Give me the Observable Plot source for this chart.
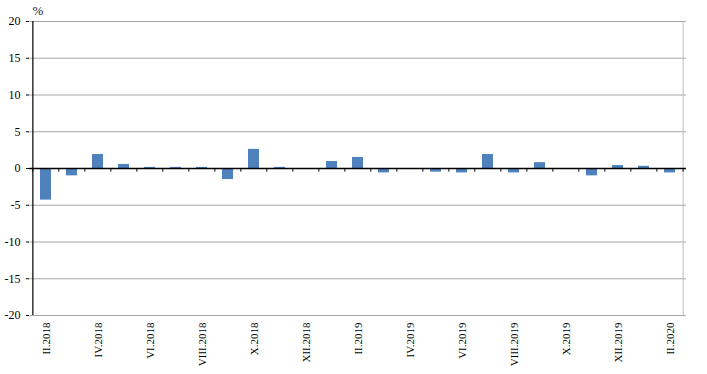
<!DOCTYPE html>
<html>
<head>
<meta charset="utf-8">
<script src="https://cdn.jsdelivr.net/npm/d3@7"></script>
<script src="https://cdn.jsdelivr.net/npm/@observablehq/plot@0.6"></script>
<style>
  html, body { margin: 0; padding: 0; background: #fff; }
  svg text { font-family: "Liberation Serif", "Times New Roman", serif; }
  svg text.pct { font-family: "Liberation Sans", Arial, sans-serif; }
</style>
</head>
<body>
<div id="chart"></div>
<script>
const months = [
  "II.2018","III.2018","IV.2018","V.2018","VI.2018","VII.2018","VIII.2018","IX.2018","X.2018","XI.2018","XII.2018",
  "I.2019","II.2019","III.2019","IV.2019","V.2019","VI.2019","VII.2019","VIII.2019","IX.2019","X.2019","XI.2019","XII.2019",
  "I.2020","II.2020"
];
const values = [
  -4.3, -1.0, 1.9, 0.55, 0.15, 0.15, 0.15, -1.5, 2.6, 0.15, 0.0,
  0.95, 1.5, -0.6, 0.0, -0.5, -0.6, 1.9, -0.6, 0.8, 0.0, -1.0, 0.4,
  0.3, -0.6
];
const labelMonths = ["II.2018","IV.2018","VI.2018","VIII.2018","X.2018","XII.2018","II.2019","IV.2019","VI.2019","VIII.2019","X.2019","XII.2019","II.2020"];
const yTicks = [20, 15, 10, 5, 0, -5, -10, -15, -20];
const gridValues = [20, 15, 10, 5, -5, -10, -15, -20];

const data = months.map((m, i) => ({month: m, value: values[i]}));

const W = 707, H = 374, ML = 29, MR = 21;
const step = (W - ML - MR) / months.length;

const chart = Plot.plot({
  width: W,
  height: H,
  marginLeft: ML,
  marginRight: MR,
  marginTop: 21,
  marginBottom: 59,
  style: {fontSize: "12px", color: "#000", background: "#fff"},
  x: {domain: months, paddingInner: 0.58, paddingOuter: 0.29, axis: null},
  y: {domain: [-20, 20], axis: null},
  marks: [
    Plot.ruleY(gridValues, {stroke: "#a6a6a6", strokeWidth: 1}),
    Plot.ruleX([months[months.length - 1]], {y1: -20, y2: 20, dx: step / 2, stroke: "#bdbdbd"}),
    Plot.barY(data, {x: "month", y: "value", fill: "#4f81bd"}),
    Plot.ruleY([0], {stroke: "#000", strokeWidth: 1.5}),
    Plot.ruleX(months, {x: d => d, y1: 0, y2: -0.5, dx: -step / 2, stroke: "#000"}),
    Plot.ruleX([months[months.length - 1]], {y1: 0, y2: -0.5, dx: step / 2, stroke: "#000"}),
    Plot.axisY({ticks: yTicks, tickSize: 3, tickPadding: 6, tickFormat: d => String(d), stroke: "#000", fill: "#000", fontSize: 12, label: null}),
    Plot.ruleX([months[0]], {y1: -20, y2: 20, dx: -step / 2, stroke: "#000", strokeWidth: 1.2}),
    Plot.axisX({ticks: labelMonths, tickRotate: -90, tickSize: 0, tickPadding: 7, fill: "#000", fontSize: 11, label: null}),
    Plot.text(["%"], {frameAnchor: "top-left", dx: 3, dy: -16, className: "pct", fontSize: 13, fill: "#1a1a1a", text: d => d})
  ]
});
document.getElementById("chart").appendChild(chart);
</script>
</body>
</html>
